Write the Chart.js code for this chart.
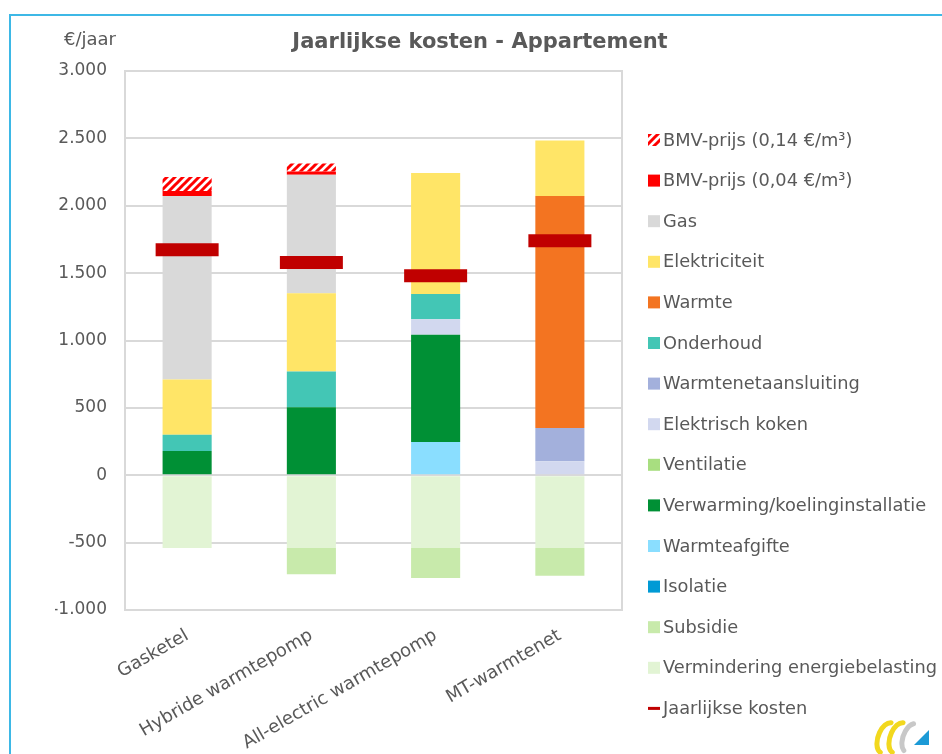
<!DOCTYPE html>
<html>
<head>
<meta charset="utf-8">
<script src="https://cdn.jsdelivr.net/npm/chart.js@4.4.1/dist/chart.umd.min.js"></script>
<style>
  html, body { margin: 0; padding: 0; background: #fff; }
  #wrap { position: relative; width: 942px; height: 754px; overflow: hidden; }
  #frame { position: absolute; left: 9px; top: 14px; right: -4px; bottom: -4px;
           border-top: 2px solid #3DB8E6; border-left: 2px solid #3DB8E6; }
  canvas { position: absolute; left: 0; top: 0; }
</style>
</head>
<body>
<div id="wrap">
  <div id="frame"></div>
  <canvas id="chart" width="942" height="754"></canvas>
</div>
<script>
// values, €/jaar
const categories = ['Gasketel', 'Hybride warmtepomp', 'All-electric warmtepomp', 'MT-warmtenet']

const verminderingEnergiebelasting = [-540, -540, -540, -540]
const subsidie             = [0, -195, -222, -205]
const isolatie             = [0, 0, 0, 0]
const warmteafgifte        = [0, 0, 247, 0]
const verwarmingKoeling    = [180, 505, 795, 0]
const ventilatie           = [0, 0, 0, 0]
const elektrischKoken      = [0, 0, 115, 104]
const warmtenetaansluiting = [0, 0, 0, 247]
const onderhoud            = [120, 265, 188, 0]
const warmte               = [0, 0, 0, 1721]
const elektriciteit        = [410, 580, 898, 413]
const gas                  = [1362, 880, 0, 0]
const bmvLaag              = [37, 25, 0, 0]
const bmvHoog              = [104, 59, 0, 0]
const jaarlijkseKosten     = [1673, 1579, 1481, 1740]

const yMin = -1000
const yMax = 3000
const yStep = 500

const textColor = '#595959'
const fontFamily = "'DejaVu Sans', sans-serif"

function hatch(color) {
  var c = document.createElement('canvas')
  c.width = 8
  c.height = 8
  var g = c.getContext('2d')
  g.fillStyle = '#fff'
  g.fillRect(0, 0, 8, 8)
  g.strokeStyle = color
  g.lineWidth = 3
  g.beginPath()
  g.moveTo(-2, 10); g.lineTo(10, -2)
  g.moveTo(-2, 2);  g.lineTo(2, -2)
  g.moveTo(6, 10);  g.lineTo(10, 6)
  g.stroke()
  return g.createPattern(c, 'repeat')
}

function bar(label, data, color) {
  return {
    label: label
  , data: data
  , backgroundColor: color
  , borderWidth: 0
  , stack: 'kosten'
  , categoryPercentage: 1
  , barPercentage: 0.395
  }
}

// stacking order bottom -> top, legend shows them reversed
var bars = [
  bar('Vermindering energiebelasting', verminderingEnergiebelasting, '#E2F4D4')
, bar('Subsidie', subsidie, '#C8EAAB')
, bar('Isolatie', isolatie, '#009AD5')
, bar('Warmteafgifte', warmteafgifte, '#8ADEFF')
, bar('Verwarming/koelinginstallatie', verwarmingKoeling, '#009035')
, bar('Ventilatie', ventilatie, '#A8DE80')
, bar('Elektrisch koken', elektrischKoken, '#D2D8EF')
, bar('Warmtenetaansluiting', warmtenetaansluiting, '#A3B0DC')
, bar('Onderhoud', onderhoud, '#43C6B5')
, bar('Warmte', warmte, '#F37421')
, bar('Elektriciteit', elektriciteit, '#FFE567')
, bar('Gas', gas, '#D9D9D9')
, bar('BMV-prijs (0,04 €/m³)', bmvLaag, '#FF0000')
, bar('BMV-prijs (0,14 €/m³)', bmvHoog, hatch('#FF0000'))
]

var totaal = {
  type: 'line'
, label: 'Jaarlijkse kosten'
, data: jaarlijkseKosten
, showLine: false
, stack: 'totaal'
, order: -1
, pointStyle: 'line'
, pointRadius: 31.5
, pointHoverRadius: 31.5
, pointBorderWidth: 13
, pointHoverBorderWidth: 13
, borderColor: '#C00000'
, pointBorderColor: '#C00000'
, backgroundColor: '#C00000'
}

function fmt(v) {
  var s = String(Math.abs(v)).replace(/\B(?=(\d{3})+(?!\d))/g, '.')
  return (v < 0 ? '-' : '') + s
}

function logo(ctx) {
  // small corner logo, bottom right
  ctx.save()
  ctx.lineCap = 'round'
  ctx.strokeStyle = '#F2D81E'
  ctx.lineWidth = 5
  ctx.beginPath()
  ctx.ellipse(887, 738, 9, 16, 0.35, Math.PI * 0.55, Math.PI * 1.45)
  ctx.stroke()
  ctx.beginPath()
  ctx.ellipse(899, 738, 9, 16, 0.35, Math.PI * 0.55, Math.PI * 1.45)
  ctx.stroke()
  ctx.strokeStyle = '#C8C8C8'
  ctx.beginPath()
  ctx.ellipse(911, 738, 8, 15, 0.35, Math.PI * 0.6, Math.PI * 1.4)
  ctx.stroke()
  ctx.fillStyle = '#1C9AD6'
  ctx.beginPath()
  ctx.moveTo(929, 730)
  ctx.lineTo(929, 745)
  ctx.lineTo(914, 745)
  ctx.closePath()
  ctx.fill()
  ctx.restore()
}

var decor = {
  id: 'decor'
, afterDraw: function(chart) {
    var ctx = chart.ctx
    var area = chart.chartArea
    ctx.save()

    // plot area frame
    ctx.strokeStyle = '#D9D9D9'
    ctx.lineWidth = 2
    ctx.strokeRect(area.left, area.top, area.right - area.left, area.bottom - area.top)

    // title and unit
    ctx.fillStyle = textColor
    ctx.textBaseline = 'middle'
    ctx.textAlign = 'center'
    ctx.font = 'bold 21px ' + fontFamily
    ctx.fillText('Jaarlijkse kosten - Appartement', 480, 43)
    ctx.font = '18px ' + fontFamily
    ctx.fillText('€/jaar', 90, 40)

    // legend
    var items = bars.slice().reverse().concat([totaal])
    var x = area.right + 26
    var y = area.top + 69
    ctx.textAlign = 'left'
    ctx.font = '17.8px ' + fontFamily
    items.forEach(function(ds, i) {
      var cy = y + i * 40.6
      if (ds.type === 'line') {
        ctx.fillStyle = ds.borderColor
        ctx.fillRect(x, cy - 1.5, 12, 3)
      } else {
        ctx.fillStyle = ds.backgroundColor
        ctx.fillRect(x, cy - 6, 12, 12)
      }
      ctx.fillStyle = textColor
      ctx.fillText(ds.label, x + 15, cy + 1)
    })
    ctx.restore()
    logo(ctx)
  }
}

new Chart(document.getElementById('chart').getContext('2d'), {
  type: 'bar'
, data: { labels: categories, datasets: bars.concat([totaal]) }
, plugins: [decor]
, options: {
    responsive: false
  , animation: false
  , events: []
  , layout: { padding: { left: 55, top: 71, right: 320, bottom: 0 } }
  , plugins: { legend: { display: false }, tooltip: { enabled: false }, title: { display: false } }
  , scales: {
      x: {
        stacked: true
      , grid: { display: false }
      , border: { display: false }
      , ticks: { color: textColor, font: { family: fontFamily, size: 18 }, minRotation: 30, maxRotation: 30, padding: 7 }
      , afterFit: function(s) { s.height = 144 }
      }
    , y: {
        stacked: true
      , min: yMin
      , max: yMax
      , border: { display: false }
      , grid: { color: '#D9D9D9', lineWidth: 2, drawTicks: false }
      , ticks: { stepSize: yStep, color: textColor, font: { family: fontFamily, size: 17 }, padding: 18, callback: fmt }
      , afterFit: function(s) { s.width = 70 }
      }
    }
  }
})
</script>
</body>
</html>
